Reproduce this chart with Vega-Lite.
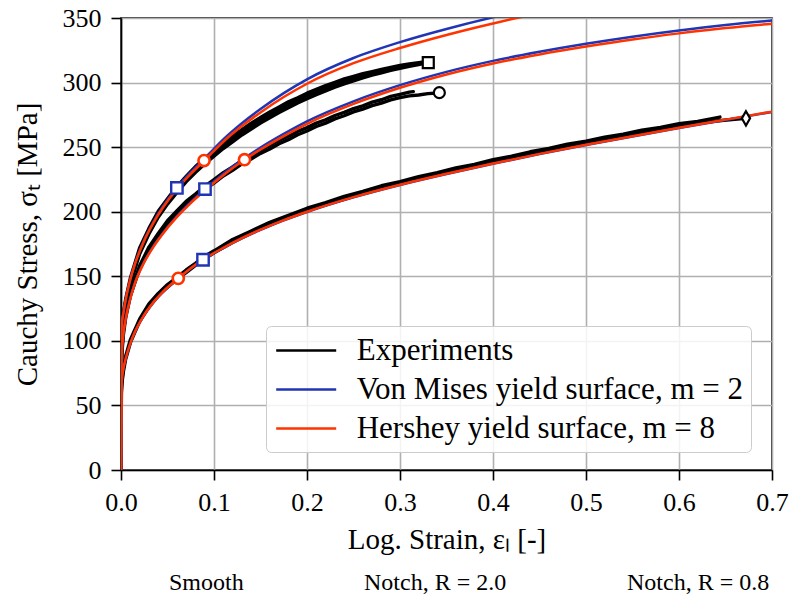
{
  "$schema": "https://vega.github.io/schema/vega-lite/v6.json",
  "width": 651,
  "height": 452,
  "autosize": {"type": "none"},
  "padding": {"left": 121, "top": 18, "right": 20, "bottom": 126},
  "background": "white",
  "config": {
    "font": "Liberation Serif",
    "view": {"stroke": "black", "strokeWidth": 1.6},
    "axis": {
      "grid": true,
      "gridColor": "#b0b0b0",
      "gridWidth": 1.6,
      "gridOpacity": 1,
      "domainColor": "black",
      "domainWidth": 1.6,
      "tickColor": "black",
      "tickWidth": 1.6,
      "tickSize": 10,
      "labelFont": "Liberation Serif",
      "labelFontSize": 26,
      "labelColor": "black",
      "labelFlush": false,
      "labelOverlap": false,
      "titleFont": "Liberation Serif",
      "titleFontSize": 29,
      "titleFontWeight": "normal",
      "titleColor": "black"
    }
  },
  "datasets": {
    "vm": [
      {"e": 0, "U": 0, "M": 0, "L": 0},
      {"e": 0.0004, "U": 104, "M": 80, "L": 61.8},
      {"e": 0.001, "U": 113.6, "M": 92, "L": 69.8},
      {"e": 0.0025, "U": 121.5, "M": 105, "L": 77.8},
      {"e": 0.005, "U": 132.1, "M": 117, "L": 85.8},
      {"e": 0.01, "U": 147.9, "M": 133, "L": 97.8},
      {"e": 0.015, "U": 160, "M": 145, "L": 106.8},
      {"e": 0.024, "U": 176.7, "M": 160, "L": 118.8},
      {"e": 0.035, "U": 192.4, "M": 173.5, "L": 129.8},
      {"e": 0.045, "U": 204, "M": 183.5, "L": 137.8},
      {"e": 0.06, "U": 218.5, "M": 196.5, "L": 147.3},
      {"e": 0.075, "U": 230.6, "M": 207.5, "L": 156.1},
      {"e": 0.09, "U": 241.3, "M": 217.3, "L": 163.5},
      {"e": 0.11, "U": 256, "M": 229.5, "L": 171.8},
      {"e": 0.13, "U": 268.5, "M": 240.2, "L": 179.3},
      {"e": 0.15, "U": 279.5, "M": 249.7, "L": 185.9},
      {"e": 0.175, "U": 291.8, "M": 260.3, "L": 193.3},
      {"e": 0.2, "U": 302.5, "M": 270, "L": 199.8},
      {"e": 0.25, "U": 319, "M": 285.5, "L": 211.1},
      {"e": 0.3, "U": 331.3, "M": 298, "L": 220.7},
      {"e": 0.35, "U": 341.5, "M": 308.3, "L": 229.2},
      {"e": 0.4, "U": 350.5, "M": 316.8, "L": 237.1},
      {"e": 0.45, "U": 358.4, "M": 323.8, "L": 244.6},
      {"e": 0.5, "U": 365.3, "M": 330, "L": 251.6},
      {"e": 0.55, "U": 371.5, "M": 335.5, "L": 258.3},
      {"e": 0.6, "U": 377.1, "M": 340.3, "L": 264.8},
      {"e": 0.65, "U": 382.1, "M": 344.5, "L": 271.1},
      {"e": 0.7, "U": 386.6, "M": 348, "L": 277.3}
    ],
    "hy": [
      {"e": 0, "U": 0, "M": 0, "L": 0},
      {"e": 0.0004, "U": 104, "M": 80, "L": 62},
      {"e": 0.001, "U": 113.4, "M": 91.7, "L": 70},
      {"e": 0.0025, "U": 121.2, "M": 104.6, "L": 78},
      {"e": 0.005, "U": 131.7, "M": 116.6, "L": 86},
      {"e": 0.01, "U": 147.4, "M": 132.6, "L": 98},
      {"e": 0.015, "U": 159.4, "M": 144.6, "L": 107},
      {"e": 0.024, "U": 176, "M": 159.5, "L": 119},
      {"e": 0.035, "U": 191.6, "M": 173, "L": 130},
      {"e": 0.045, "U": 203.1, "M": 183, "L": 138},
      {"e": 0.06, "U": 217.4, "M": 195.8, "L": 147.5},
      {"e": 0.075, "U": 229.3, "M": 206.7, "L": 156.3},
      {"e": 0.09, "U": 239.8, "M": 216.3, "L": 163.7},
      {"e": 0.11, "U": 254.2, "M": 228.3, "L": 172},
      {"e": 0.13, "U": 266.3, "M": 238.9, "L": 179.5},
      {"e": 0.15, "U": 276.9, "M": 248.2, "L": 186.1},
      {"e": 0.175, "U": 288.8, "M": 258.6, "L": 193.5},
      {"e": 0.2, "U": 299.1, "M": 268.1, "L": 200},
      {"e": 0.25, "U": 315, "M": 283.5, "L": 211.3},
      {"e": 0.3, "U": 326.8, "M": 296, "L": 220.9},
      {"e": 0.35, "U": 336.9, "M": 306.3, "L": 229.4},
      {"e": 0.4, "U": 345.8, "M": 314.8, "L": 237.3},
      {"e": 0.45, "U": 353.7, "M": 321.8, "L": 244.8},
      {"e": 0.5, "U": 360.5, "M": 327.9, "L": 251.8},
      {"e": 0.55, "U": 366.6, "M": 333.4, "L": 258.5},
      {"e": 0.6, "U": 372.1, "M": 338.1, "L": 265},
      {"e": 0.65, "U": 377, "M": 342.2, "L": 271.3},
      {"e": 0.7, "U": 381.4, "M": 345.6, "L": 277.5}
    ],
    "exp": [
      {"r": "U1", "e": 0, "s": 0}, {"r": "U1", "e": 0.0004, "s": 101}, {"r": "U1", "e": 0.001, "s": 111.5}, {"r": "U1", "e": 0.0025, "s": 121},
      {"r": "U1", "e": 0.005, "s": 132.3}, {"r": "U1", "e": 0.01, "s": 148.4}, {"r": "U1", "e": 0.02, "s": 171.9}, {"r": "U1", "e": 0.03, "s": 187.1},
      {"r": "U1", "e": 0.04, "s": 200.4}, {"r": "U1", "e": 0.05, "s": 210.1}, {"r": "U1", "e": 0.06, "s": 219.4}, {"r": "U1", "e": 0.07, "s": 227.3},
      {"r": "U1", "e": 0.08, "s": 234.9}, {"r": "U1", "e": 0.09, "s": 241.1}, {"r": "U1", "e": 0.1, "s": 247.6}, {"r": "U1", "e": 0.11, "s": 253.1},
      {"r": "U1", "e": 0.12, "s": 258.7}, {"r": "U1", "e": 0.13, "s": 263.6}, {"r": "U1", "e": 0.14, "s": 268.6}, {"r": "U1", "e": 0.15, "s": 272.9},
      {"r": "U1", "e": 0.16, "s": 277.3}, {"r": "U1", "e": 0.17, "s": 281.1}, {"r": "U1", "e": 0.18, "s": 285.1}, {"r": "U1", "e": 0.19, "s": 288.3},
      {"r": "U1", "e": 0.2, "s": 291.8}, {"r": "U1", "e": 0.21, "s": 294.7}, {"r": "U1", "e": 0.22, "s": 297.7}, {"r": "U1", "e": 0.23, "s": 300.2},
      {"r": "U1", "e": 0.24, "s": 302.8}, {"r": "U1", "e": 0.25, "s": 304.8}, {"r": "U1", "e": 0.26, "s": 306.9}, {"r": "U1", "e": 0.27, "s": 308.5},
      {"r": "U1", "e": 0.28, "s": 310.2}, {"r": "U1", "e": 0.29, "s": 311.7}, {"r": "U1", "e": 0.3, "s": 313.2}, {"r": "U1", "e": 0.31, "s": 314.4},
      {"r": "U1", "e": 0.32, "s": 315.4}, {"r": "U1", "e": 0.326, "s": 316},
      {"r": "U3", "e": 0, "s": 0}, {"r": "U3", "e": 0.0004, "s": 100}, {"r": "U3", "e": 0.001, "s": 110.2}, {"r": "U3", "e": 0.0025, "s": 118.8},
      {"r": "U3", "e": 0.005, "s": 130.3}, {"r": "U3", "e": 0.01, "s": 145.7}, {"r": "U3", "e": 0.02, "s": 169.8}, {"r": "U3", "e": 0.03, "s": 184.8},
      {"r": "U3", "e": 0.04, "s": 198.3}, {"r": "U3", "e": 0.05, "s": 207.7}, {"r": "U3", "e": 0.06, "s": 217.3}, {"r": "U3", "e": 0.07, "s": 225},
      {"r": "U3", "e": 0.08, "s": 232.9}, {"r": "U3", "e": 0.09, "s": 238.8}, {"r": "U3", "e": 0.1, "s": 245.5}, {"r": "U3", "e": 0.11, "s": 250.8},
      {"r": "U3", "e": 0.12, "s": 256.7}, {"r": "U3", "e": 0.13, "s": 261.3}, {"r": "U3", "e": 0.14, "s": 266.6}, {"r": "U3", "e": 0.15, "s": 270.6},
      {"r": "U3", "e": 0.16, "s": 275.3}, {"r": "U3", "e": 0.17, "s": 278.8}, {"r": "U3", "e": 0.18, "s": 283.1}, {"r": "U3", "e": 0.19, "s": 286.1},
      {"r": "U3", "e": 0.2, "s": 289.9}, {"r": "U3", "e": 0.21, "s": 292.5}, {"r": "U3", "e": 0.22, "s": 295.9}, {"r": "U3", "e": 0.23, "s": 298.1},
      {"r": "U3", "e": 0.24, "s": 301.1}, {"r": "U3", "e": 0.25, "s": 302.9}, {"r": "U3", "e": 0.26, "s": 305.5}, {"r": "U3", "e": 0.27, "s": 306.9},
      {"r": "U3", "e": 0.28, "s": 309.2}, {"r": "U3", "e": 0.29, "s": 310.4}, {"r": "U3", "e": 0.3, "s": 312.4}, {"r": "U3", "e": 0.31, "s": 313.3},
      {"r": "U3", "e": 0.32, "s": 314.7}, {"r": "U3", "e": 0.329, "s": 315.6},
      {"r": "U2", "e": 0, "s": 0}, {"r": "U2", "e": 0.0004, "s": 99}, {"r": "U2", "e": 0.001, "s": 108.6}, {"r": "U2", "e": 0.0025, "s": 117.2},
      {"r": "U2", "e": 0.005, "s": 127.8}, {"r": "U2", "e": 0.01, "s": 143.7}, {"r": "U2", "e": 0.02, "s": 167.2}, {"r": "U2", "e": 0.03, "s": 182.8},
      {"r": "U2", "e": 0.04, "s": 195.7}, {"r": "U2", "e": 0.05, "s": 205.9}, {"r": "U2", "e": 0.06, "s": 214.7}, {"r": "U2", "e": 0.07, "s": 223.1},
      {"r": "U2", "e": 0.08, "s": 230.3}, {"r": "U2", "e": 0.09, "s": 236.9}, {"r": "U2", "e": 0.1, "s": 242.9}, {"r": "U2", "e": 0.11, "s": 248.9},
      {"r": "U2", "e": 0.12, "s": 254.1}, {"r": "U2", "e": 0.13, "s": 259.4}, {"r": "U2", "e": 0.14, "s": 264}, {"r": "U2", "e": 0.15, "s": 268.7},
      {"r": "U2", "e": 0.16, "s": 272.8}, {"r": "U2", "e": 0.17, "s": 276.9}, {"r": "U2", "e": 0.18, "s": 280.6}, {"r": "U2", "e": 0.19, "s": 284.2},
      {"r": "U2", "e": 0.2, "s": 287.5}, {"r": "U2", "e": 0.21, "s": 290.7}, {"r": "U2", "e": 0.22, "s": 293.6}, {"r": "U2", "e": 0.23, "s": 296.4},
      {"r": "U2", "e": 0.24, "s": 298.9}, {"r": "U2", "e": 0.25, "s": 301.3}, {"r": "U2", "e": 0.26, "s": 303.6}, {"r": "U2", "e": 0.27, "s": 305.7},
      {"r": "U2", "e": 0.28, "s": 307.6}, {"r": "U2", "e": 0.29, "s": 309.5}, {"r": "U2", "e": 0.3, "s": 311}, {"r": "U2", "e": 0.31, "s": 312.5},
      {"r": "U2", "e": 0.32, "s": 313.9}, {"r": "U2", "e": 0.3304, "s": 315.4},
      {"r": "M1", "e": 0, "s": 0}, {"r": "M1", "e": 0.0004, "s": 81}, {"r": "M1", "e": 0.001, "s": 93.4}, {"r": "M1", "e": 0.0025, "s": 107.5},
      {"r": "M1", "e": 0.005, "s": 120.2}, {"r": "M1", "e": 0.01, "s": 137.6}, {"r": "M1", "e": 0.02, "s": 158.1}, {"r": "M1", "e": 0.03, "s": 172.6},
      {"r": "M1", "e": 0.04, "s": 183.1}, {"r": "M1", "e": 0.05, "s": 193}, {"r": "M1", "e": 0.06, "s": 200.6}, {"r": "M1", "e": 0.07, "s": 208},
      {"r": "M1", "e": 0.08, "s": 213.6}, {"r": "M1", "e": 0.09, "s": 219.7}, {"r": "M1", "e": 0.1, "s": 224.8}, {"r": "M1", "e": 0.11, "s": 230.3},
      {"r": "M1", "e": 0.12, "s": 234.7}, {"r": "M1", "e": 0.13, "s": 239.6}, {"r": "M1", "e": 0.14, "s": 243.4}, {"r": "M1", "e": 0.15, "s": 247.8},
      {"r": "M1", "e": 0.16, "s": 251.2}, {"r": "M1", "e": 0.17, "s": 255.3}, {"r": "M1", "e": 0.18, "s": 258.4}, {"r": "M1", "e": 0.19, "s": 262.2},
      {"r": "M1", "e": 0.2, "s": 265.1}, {"r": "M1", "e": 0.21, "s": 268.6}, {"r": "M1", "e": 0.22, "s": 271.2}, {"r": "M1", "e": 0.23, "s": 274.5},
      {"r": "M1", "e": 0.24, "s": 276.9}, {"r": "M1", "e": 0.25, "s": 279.9}, {"r": "M1", "e": 0.26, "s": 282}, {"r": "M1", "e": 0.27, "s": 284.8},
      {"r": "M1", "e": 0.28, "s": 286.7}, {"r": "M1", "e": 0.29, "s": 289.3}, {"r": "M1", "e": 0.3, "s": 290.9}, {"r": "M1", "e": 0.31, "s": 292.6},
      {"r": "M1", "e": 0.3143, "s": 293},
      {"r": "M2", "e": 0, "s": 0}, {"r": "M2", "e": 0.0004, "s": 79}, {"r": "M2", "e": 0.001, "s": 90.6}, {"r": "M2", "e": 0.0025, "s": 104.4},
      {"r": "M2", "e": 0.005, "s": 117.7}, {"r": "M2", "e": 0.01, "s": 134.5}, {"r": "M2", "e": 0.02, "s": 155.8}, {"r": "M2", "e": 0.03, "s": 169.6},
      {"r": "M2", "e": 0.04, "s": 180.6}, {"r": "M2", "e": 0.05, "s": 190.3}, {"r": "M2", "e": 0.06, "s": 198.1}, {"r": "M2", "e": 0.07, "s": 205.2},
      {"r": "M2", "e": 0.08, "s": 211.3}, {"r": "M2", "e": 0.09, "s": 217.1}, {"r": "M2", "e": 0.1, "s": 222.2}, {"r": "M2", "e": 0.11, "s": 227.7},
      {"r": "M2", "e": 0.12, "s": 232.1}, {"r": "M2", "e": 0.13, "s": 237}, {"r": "M2", "e": 0.14, "s": 240.8}, {"r": "M2", "e": 0.15, "s": 245.2},
      {"r": "M2", "e": 0.16, "s": 248.6}, {"r": "M2", "e": 0.17, "s": 252.7}, {"r": "M2", "e": 0.18, "s": 255.8}, {"r": "M2", "e": 0.19, "s": 259.6},
      {"r": "M2", "e": 0.2, "s": 262.5}, {"r": "M2", "e": 0.21, "s": 266}, {"r": "M2", "e": 0.22, "s": 268.6}, {"r": "M2", "e": 0.23, "s": 271.9},
      {"r": "M2", "e": 0.24, "s": 274.3}, {"r": "M2", "e": 0.25, "s": 277.3}, {"r": "M2", "e": 0.26, "s": 279.4}, {"r": "M2", "e": 0.27, "s": 282.1},
      {"r": "M2", "e": 0.28, "s": 284.1}, {"r": "M2", "e": 0.29, "s": 286.6}, {"r": "M2", "e": 0.3, "s": 288.3}, {"r": "M2", "e": 0.31, "s": 289.7},
      {"r": "M2", "e": 0.32, "s": 290.4}, {"r": "M2", "e": 0.33, "s": 291.4}, {"r": "M2", "e": 0.34, "s": 291.9}, {"r": "M2", "e": 0.3423, "s": 292.2},
      {"r": "L1", "e": 0, "s": 0}, {"r": "L1", "e": 0.0004, "s": 61}, {"r": "L1", "e": 0.001, "s": 69}, {"r": "L1", "e": 0.0025, "s": 78.2},
      {"r": "L1", "e": 0.005, "s": 88.1}, {"r": "L1", "e": 0.01, "s": 100.7}, {"r": "L1", "e": 0.02, "s": 116.8}, {"r": "L1", "e": 0.03, "s": 128.7},
      {"r": "L1", "e": 0.04, "s": 136.7}, {"r": "L1", "e": 0.05, "s": 143.6}, {"r": "L1", "e": 0.06, "s": 149}, {"r": "L1", "e": 0.07, "s": 154.9},
      {"r": "L1", "e": 0.08, "s": 160}, {"r": "L1", "e": 0.09, "s": 165.6}, {"r": "L1", "e": 0.1, "s": 169.7}, {"r": "L1", "e": 0.12, "s": 178.5},
      {"r": "L1", "e": 0.14, "s": 185.1}, {"r": "L1", "e": 0.16, "s": 191.8}, {"r": "L1", "e": 0.18, "s": 197.2}, {"r": "L1", "e": 0.2, "s": 202.7},
      {"r": "L1", "e": 0.22, "s": 207}, {"r": "L1", "e": 0.24, "s": 211.9}, {"r": "L1", "e": 0.26, "s": 215.7}, {"r": "L1", "e": 0.28, "s": 220.1},
      {"r": "L1", "e": 0.3, "s": 223.3}, {"r": "L1", "e": 0.32, "s": 227.2}, {"r": "L1", "e": 0.34, "s": 230.2}, {"r": "L1", "e": 0.36, "s": 233.9},
      {"r": "L1", "e": 0.38, "s": 236.7}, {"r": "L1", "e": 0.4, "s": 240.3}, {"r": "L1", "e": 0.42, "s": 243}, {"r": "L1", "e": 0.44, "s": 246.4},
      {"r": "L1", "e": 0.46, "s": 249}, {"r": "L1", "e": 0.48, "s": 252.3}, {"r": "L1", "e": 0.5, "s": 254.7}, {"r": "L1", "e": 0.52, "s": 257.8},
      {"r": "L1", "e": 0.54, "s": 260.1}, {"r": "L1", "e": 0.56, "s": 263.1}, {"r": "L1", "e": 0.58, "s": 265.2}, {"r": "L1", "e": 0.6, "s": 268.1},
      {"r": "L1", "e": 0.62, "s": 270}, {"r": "L1", "e": 0.644, "s": 273.3},
      {"r": "L2", "e": 0, "s": 0}, {"r": "L2", "e": 0.0004, "s": 59}, {"r": "L2", "e": 0.001, "s": 67}, {"r": "L2", "e": 0.0025, "s": 76},
      {"r": "L2", "e": 0.005, "s": 85.8}, {"r": "L2", "e": 0.01, "s": 98.4}, {"r": "L2", "e": 0.02, "s": 115.1}, {"r": "L2", "e": 0.03, "s": 126.4},
      {"r": "L2", "e": 0.04, "s": 135.2}, {"r": "L2", "e": 0.05, "s": 141.5}, {"r": "L2", "e": 0.06, "s": 147.5}, {"r": "L2", "e": 0.07, "s": 152.8},
      {"r": "L2", "e": 0.08, "s": 158.5}, {"r": "L2", "e": 0.09, "s": 163.5}, {"r": "L2", "e": 0.1, "s": 168.2}, {"r": "L2", "e": 0.12, "s": 176.4},
      {"r": "L2", "e": 0.14, "s": 183.6}, {"r": "L2", "e": 0.16, "s": 189.7}, {"r": "L2", "e": 0.18, "s": 195.7}, {"r": "L2", "e": 0.2, "s": 200.6},
      {"r": "L2", "e": 0.22, "s": 205.5}, {"r": "L2", "e": 0.24, "s": 209.8}, {"r": "L2", "e": 0.26, "s": 214.2}, {"r": "L2", "e": 0.28, "s": 218},
      {"r": "L2", "e": 0.3, "s": 221.8}, {"r": "L2", "e": 0.32, "s": 225.1}, {"r": "L2", "e": 0.34, "s": 228.7}, {"r": "L2", "e": 0.36, "s": 231.8},
      {"r": "L2", "e": 0.38, "s": 235.2}, {"r": "L2", "e": 0.4, "s": 238.2}, {"r": "L2", "e": 0.42, "s": 241.5}, {"r": "L2", "e": 0.44, "s": 244.3},
      {"r": "L2", "e": 0.46, "s": 247.5}, {"r": "L2", "e": 0.48, "s": 250.2}, {"r": "L2", "e": 0.5, "s": 253.2}, {"r": "L2", "e": 0.52, "s": 255.7},
      {"r": "L2", "e": 0.54, "s": 258.6}, {"r": "L2", "e": 0.56, "s": 261}, {"r": "L2", "e": 0.58, "s": 263.7}, {"r": "L2", "e": 0.6, "s": 265.9},
      {"r": "L2", "e": 0.62, "s": 268.4}, {"r": "L2", "e": 0.64, "s": 270.2}, {"r": "L2", "e": 0.66, "s": 271.6}, {"r": "L2", "e": 0.672, "s": 272.3}
    ],
    "squares": [
      {"e": 0.0601, "s": 218.4},
      {"e": 0.0903, "s": 217.5},
      {"e": 0.0882, "s": 162.8}
    ],
    "circles": [
      {"e": 0.0893, "s": 239.6},
      {"e": 0.1328, "s": 240.3},
      {"e": 0.0616, "s": 148.4}
    ],
    "ends": [
      {"e": 0.672, "s": 272.3, "sp": "Smooth"},
      {"e": 0.3423, "s": 292.2, "sp": "Notch, R = 2.0"},
      {"e": 0.3304, "s": 315.4, "sp": "Notch, R = 0.8"}
    ]
  },
  "encoding": {
    "x": {
      "field": "e",
      "type": "quantitative",
      "scale": {"domain": [0, 0.7], "nice": false, "zero": false},
      "axis": {
        "values": [0, 0.1, 0.2, 0.3, 0.4, 0.5, 0.6, 0.7],
        "format": ".1f",
        "labelPadding": 9,
        "title": "Log. Strain, εₗ [-]",
        "titleX": 325.5,
        "titleY": 78,
        "titleAlign": "center",
        "titleBaseline": "alphabetic"
      }
    },
    "y": {
      "field": "s",
      "type": "quantitative",
      "scale": {"domain": [0, 350], "nice": false, "zero": false},
      "axis": {
        "values": [0, 50, 100, 150, 200, 250, 300, 350],
        "labelPadding": 10,
        "title": "Cauchy Stress, σₜ [MPa]",
        "titleX": -85,
        "titleY": 226,
        "titleAngle": 270,
        "titleAlign": "center",
        "titleBaseline": "alphabetic"
      }
    }
  },
  "layer": [
    {
      "data": {"name": "exp"},
      "mark": {"type": "line", "strokeWidth": 3.4, "clip": true, "strokeJoin": "round", "strokeCap": "round"},
      "encoding": {
        "detail": {"field": "r"},
        "color": {
          "datum": "Experiments",
          "scale": {
            "domain": ["Experiments", "Von Mises yield surface, m = 2", "Hershey yield surface, m = 8"],
            "range": ["#000000", "#2035b5", "#ff3300"]
          },
          "legend": {
            "title": null,
            "orient": "none",
            "legendX": 145,
            "legendY": 308,
            "direction": "vertical",
            "symbolType": "M-2,0H2",
            "symbolSize": 900,
            "symbolStrokeWidth": 2.6,
            "symbolOffset": 15.7,
            "labelFont": "Liberation Serif",
            "labelFontSize": 31,
            "labelColor": "black",
            "labelOffset": 34,
            "labelLimit": 600,
            "rowPadding": 7,
            "padding": 8,
            "fillColor": "rgba(255,255,255,0.85)",
            "strokeColor": "#cccccc",
            "cornerRadius": 5
          }
        }
      }
    },
    {
      "data": {"name": "vm"},
      "transform": [{"fold": ["U", "M", "L"], "as": ["curve", "s"]}],
      "mark": {"type": "line", "strokeWidth": 2.5, "clip": true, "interpolate": "monotone"},
      "encoding": {
        "detail": {"field": "curve"},
        "color": {"datum": "Von Mises yield surface, m = 2"}
      }
    },
    {
      "data": {"name": "hy"},
      "transform": [{"fold": ["U", "M", "L"], "as": ["curve", "s"]}],
      "mark": {"type": "line", "strokeWidth": 2.5, "clip": true, "interpolate": "monotone"},
      "encoding": {
        "detail": {"field": "curve"},
        "color": {"datum": "Hershey yield surface, m = 8"}
      }
    },
    {
      "data": {"name": "squares"},
      "mark": {"type": "point", "shape": "square", "size": 130, "filled": true, "fill": "white", "stroke": "#2035b5", "strokeWidth": 2.4, "opacity": 1}
    },
    {
      "data": {"name": "circles"},
      "mark": {"type": "point", "shape": "circle", "size": 125, "filled": true, "fill": "white", "stroke": "#ff3300", "strokeWidth": 2.6, "opacity": 1}
    },
    {
      "data": {"name": "ends"},
      "transform": [{"filter": {"field": "sp", "equal": "Smooth"}}],
      "mark": {"type": "point", "shape": "M0,-1.3L0.75,0L0,1.3L-0.75,0Z", "size": 121, "filled": true, "fill": "white", "stroke": "black", "strokeWidth": 2.2, "opacity": 1}
    },
    {
      "data": {"name": "ends"},
      "transform": [{"filter": {"field": "sp", "equal": "Notch, R = 2.0"}}],
      "mark": {"type": "point", "shape": "circle", "size": 121, "filled": true, "fill": "white", "stroke": "black", "strokeWidth": 2.2, "opacity": 1}
    },
    {
      "data": {"name": "ends"},
      "transform": [{"filter": {"field": "sp", "equal": "Notch, R = 0.8"}}],
      "mark": {"type": "point", "shape": "square", "size": 121, "filled": true, "fill": "white", "stroke": "black", "strokeWidth": 2.2, "opacity": 1}
    },
    {
      "data": {"values": []},
      "mark": {"type": "point", "size": 1936, "filled": true, "fill": "white", "stroke": "black", "strokeWidth": 2.2, "opacity": 1},
      "encoding": {
        "shape": {
          "field": "sp",
          "type": "nominal",
          "scale": {
            "domain": ["Smooth", "Notch, R = 2.0", "Notch, R = 0.8"],
            "range": [
              "M-1,0L-0.18,0L0,-0.32L0.18,0L1,0L0.18,0L0,0.32L-0.18,0Z",
              "M-1,0L-0.23,0L-0.2125,-0.088L-0.1626,-0.1626L-0.088,-0.2125L0,-0.23L0.088,-0.2125L0.1626,-0.1626L0.2125,-0.088L0.23,0L1,0L0.23,0L0.2125,0.088L0.1626,0.1626L0.088,0.2125L0,0.23L-0.088,0.2125L-0.1626,0.1626L-0.2125,0.088L-0.23,0Z",
              "M-1,0L-0.24,0L-0.24,-0.24L0.24,-0.24L0.24,0L1,0L0.24,0L0.24,0.24L-0.24,0.24L-0.24,0Z"
            ]
          },
          "legend": {
            "title": null,
            "orient": "none",
            "legendX": -19,
            "legendY": 541,
            "direction": "horizontal",
            "columns": 3,
            "symbolSize": 1936,
            "symbolFillColor": "white",
            "symbolStrokeColor": "black",
            "symbolStrokeWidth": 2.2,
            "labelFont": "Liberation Serif",
            "labelFontSize": 24,
            "labelColor": "black",
            "labelOffset": 20,
            "labelLimit": 400,
            "columnPadding": 50,
            "padding": 0,
            "encode": {
              "symbols": {
                "size": {"value": 1936},
                "fill": {"value": "white"},
                "stroke": {"value": "black"},
                "strokeWidth": {"value": 2.2},
                "opacity": {"value": 1}
              }
            }
          }
        }
      }
    }
  ]
}
